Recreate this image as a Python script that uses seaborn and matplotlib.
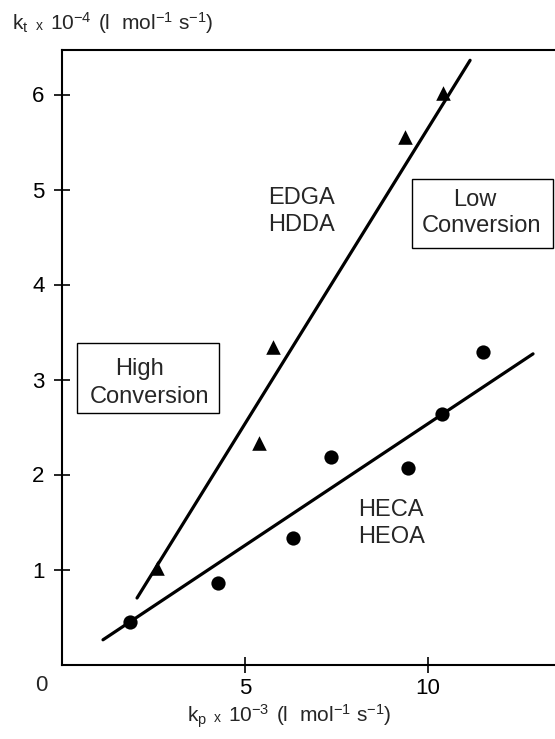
import matplotlib
matplotlib.use("Agg")
import matplotlib.pyplot as plt
from matplotlib.patches import Rectangle
from matplotlib.offsetbox import TextArea, HPacker, AnchoredOffsetbox
import seaborn as sns
import pandas as pd

# Diacrylates (triangles) and monoacrylates (circles)
kp_di = [2.60, 5.38, 5.77, 9.37, 10.41]
kt_di = [1.02, 2.33, 3.34, 5.55, 6.02]
kp_mono = [1.86, 4.26, 6.31, 7.35, 9.45, 10.38, 11.50]
kt_mono = [0.45, 0.86, 1.33, 2.18, 2.07, 2.64, 3.29]

# End points of the two fitted straight lines
fit_kp_di = [2.05, 11.15]
fit_kt_di = [0.70, 6.36]
fit_kp_mono = [1.12, 12.87]
fit_kt_mono = [0.26, 3.27]

x_ticks = [5, 10]
y_ticks = [1, 2, 3, 4, 5, 6]

sns.set_theme(style="white")
plt.rcParams["font.family"] = ["Liberation Sans", "DejaVu Sans"]
plt.rcParams["mathtext.fontset"] = "custom"
plt.rcParams["mathtext.rm"] = "Liberation Sans"
plt.rcParams["mathtext.it"] = "Liberation Sans:italic"

W, H = 555, 739
fig = plt.figure(figsize=(W / 100, H / 100), dpi=100)
# frame runs past the right edge of the page
x_per_unit = 36.6
y_per_unit = 95.0
left_px, bottom_px = 62.0, 664.5
xmax, ymax = 14.0, 6.47
ax = fig.add_axes([left_px / W, (H - bottom_px) / H,
                   xmax * x_per_unit / W, ymax * y_per_unit / H])
ax.set_xlim(0, xmax)
ax.set_ylim(0, ymax)

di = pd.DataFrame({"kp": kp_di, "kt": kt_di})
mono = pd.DataFrame({"kp": kp_mono, "kt": kt_mono})
fit_di = pd.DataFrame({"kp": fit_kp_di, "kt": fit_kt_di})
fit_mono = pd.DataFrame({"kp": fit_kp_mono, "kt": fit_kt_mono})

sns.lineplot(data=fit_di, x="kp", y="kt", ax=ax, color="black", lw=2.3,
             sort=False, estimator=None)
sns.lineplot(data=fit_mono, x="kp", y="kt", ax=ax, color="black", lw=2.3,
             sort=False, estimator=None)
sns.scatterplot(data=di, x="kp", y="kt", ax=ax, marker="^", s=110,
                color="black", edgecolor="black", linewidth=0, zorder=5)
sns.scatterplot(data=mono, x="kp", y="kt", ax=ax, marker="o", s=105,
                color="black", edgecolor="black", linewidth=0, zorder=5)

ax.set_xlabel("")
ax.set_ylabel("")
ax.set_xticks(x_ticks)
ax.set_xticklabels([str(v) for v in x_ticks])
ax.set_yticks(y_ticks)
ax.set_yticklabels([str(v) for v in y_ticks])
ax.tick_params(axis="both", direction="inout", length=11, width=1.2,
               colors="black", labelsize=16)
ax.tick_params(axis="y", pad=7)
ax.tick_params(axis="x", pad=4)
ax.tick_params(bottom=True, left=True)
for side in ["left", "bottom", "top"]:
    ax.spines[side].set_visible(True)
    ax.spines[side].set_color("black")
    ax.spines[side].set_linewidth(1.5)
ax.spines["right"].set_visible(False)

# corner origin label
ax.annotate("0", xy=(0, 0), xytext=(-15, -15), textcoords="offset points",
            ha="center", va="center", fontsize=16, annotation_clip=False)

# series names
ax.text(5.63, 4.91, "EDGA", ha="left", va="center", fontsize=17)
ax.text(5.63, 4.63, "HDDA", ha="left", va="center", fontsize=17)
ax.text(8.09, 1.63, "HECA", ha="left", va="center", fontsize=17)
ax.text(8.09, 1.34, "HEOA", ha="left", va="center", fontsize=17)

# boxed regime labels
ax.add_patch(Rectangle((0.41, 2.65), 3.88, 0.73, fill=False,
                       edgecolor="black", lw=1.0, zorder=4))
ax.text(2.12, 3.11, "High", ha="center", va="center", fontsize=17)
ax.text(2.40, 2.82, "Conversion", ha="center", va="center", fontsize=17)
ax.add_patch(Rectangle((9.56, 4.38), 3.86, 0.73, fill=False,
                       edgecolor="black", lw=1.0, zorder=4))
ax.text(11.28, 4.89, "Low", ha="center", va="center", fontsize=17)
ax.text(11.45, 4.62, "Conversion", ha="center", va="center", fontsize=17)


def rate_label(sub, exp):
    parts = [
        TextArea(rf"$\mathregular{{k_{sub}}}$", textprops=dict(size=15)),
        TextArea("x", textprops=dict(size=10)),
        TextArea(rf"$\mathregular{{10^{{{exp}}}}}$", textprops=dict(size=15)),
        TextArea(r"$\mathregular{(l\ \ mol^{-1}\ s^{-1})}$",
                 textprops=dict(size=15)),
    ]
    return HPacker(children=parts, align="baseline", pad=0, sep=5)


ylab = AnchoredOffsetbox(loc="center left", child=rate_label("t", "-4"),
                         bbox_to_anchor=(12 / W, 1 - 23 / H),
                         bbox_transform=fig.transFigure, frameon=False,
                         pad=0, borderpad=0)
ylab.set_clip_on(False)
ax.add_artist(ylab)
xlab = AnchoredOffsetbox(loc="center left", child=rate_label("p", "-3"),
                         bbox_to_anchor=(187 / W, 1 - 716 / H),
                         bbox_transform=fig.transFigure, frameon=False,
                         pad=0, borderpad=0)
xlab.set_clip_on(False)
ax.add_artist(xlab)

fig.savefig("out.png", dpi=100, facecolor="white")
